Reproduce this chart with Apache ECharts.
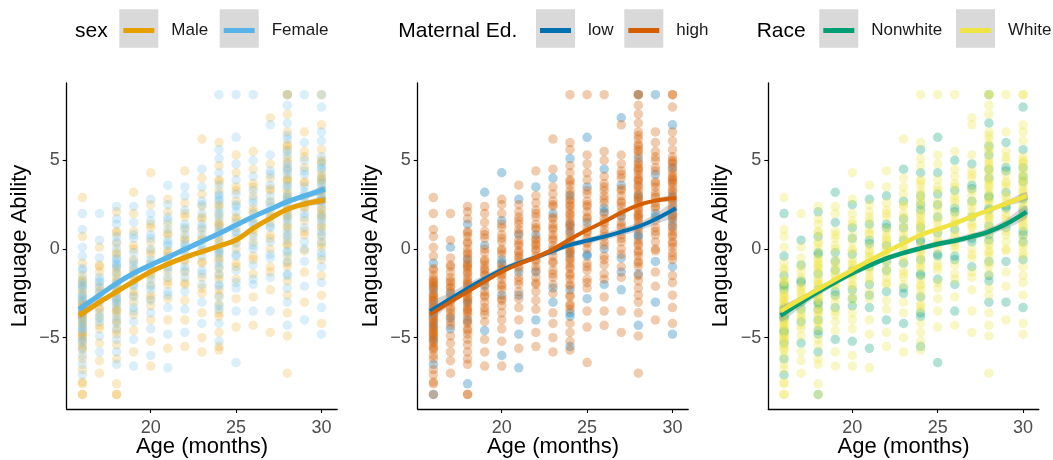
<!DOCTYPE html>
<html><head><meta charset="utf-8">
<script src="https://cdn.jsdelivr.net/npm/echarts@6/dist/echarts.min.js"></script>
<style>html,body{margin:0;padding:0;background:#fff}#c{width:1053px;height:460px}</style>
</head><body><div id="c"></div>
<script>
// ---------- DATA ----------
const ages = [16,17,18,19,20,21,22,23,24,25,26,27,28,29,30];
// language ability of each child, per age column
const abilityByAge = [
  [2.9,2.0,1.1,0.7,0.1, -0.4,-0.8,-1.1,-1.5,-1.7, -1.9,-2.2,-2.3,-2.6,-2.9, -3.0,-3.3,-3.5,-3.6,-3.9, -4.1,-4.2,-4.5,-4.7,-4.8, -5.1,-5.3,-5.6,-5.7,-6.0, -6.2,-6.5,-6.8,-7.1,-7.5, -7.6,-8.2,-8.2],
  [2.0,0.5,0.1,-0.5,-0.9, -1.3,-1.6,-1.9,-2.1,-2.5, -2.7,-3.0,-3.3,-3.6,-3.8, -4.1,-4.5,-4.9,-5.3,-5.8, -6.3,-7.0],
  [2.4,2.1,1.7,1.4,1.0, 0.7,0.3,0.0,-0.3,-0.6, -0.9,-1.1,-1.4,-1.6,-1.8, -2.0,-2.3,-2.5,-2.7,-2.9, -3.1,-3.3,-3.5,-3.8,-4.0, -4.2,-4.5,-4.8,-5.1,-5.4, -5.8,-6.2,-6.5,-7.6,-8.2, -8.2],
  [3.2,2.4,2.0,1.5,1.0, 0.6,0.2,-0.2,-0.6,-0.9, -1.2,-1.5,-1.8,-2.1,-2.4, -2.7,-3.0,-3.3,-3.7,-4.1, -4.6,-5.1,-5.8,-6.6],
  [4.3,2.8,2.5,2.0,1.6, 1.2,0.8,0.4,0.0,-0.3, -0.6,-0.9,-1.2,-1.5,-1.7, -2.0,-2.3,-2.6,-2.9,-3.2, -3.6,-4.0,-4.5,-5.2,-6.0, -6.6],
  [3.6,2.8,2.5,2.1,1.8, 1.4,1.1,0.8,0.5,0.2, -0.1,-0.4,-0.7,-1.0,-1.3, -1.6,-2.0,-2.4,-2.8,-3.3, -4.0,-4.8,-5.6,-6.7],
  [4.4,3.5,3.0,2.6,2.2, 1.8,1.4,1.1,0.8,0.5, 0.2,-0.1,-0.4,-0.7,-1.0, -1.3,-1.6,-2.0,-2.4,-2.9, -3.4,-4.0,-4.7,-5.5],
  [6.2,4.5,4.0,3.5,3.1, 2.7,2.4,2.0,1.7,1.4, 1.1,0.8,0.5,0.2,-0.1, -0.4,-0.8,-1.2,-1.6,-2.0, -2.5,-3.0,-3.6,-4.2,-5.0, -5.8],
  [8.7,6.0,5.6,5.1,4.7, 4.3,3.9,3.6,3.3,3.0, 2.7,2.4,2.2,1.9,1.7, 1.4,1.2,0.9,0.7,0.4, 0.2,-0.1,-0.3,-0.6,-0.8, -1.1,-1.4,-1.7,-2.0,-2.3, -2.7,-3.1,-3.4,-3.8,-4.2, -4.7,-5.2,-5.5,-5.7],
  [8.7,6.3,5.3,4.8,4.3, 3.9,3.5,3.1,2.7,2.4, 2.1,1.8,1.5,1.2,0.9, 0.6,0.3,0.0,-0.4,-0.8, -1.2,-1.7,-2.2,-2.8,-3.5, -4.4,-6.4],
  [8.7,5.5,5.0,4.5,4.1, 3.7,3.3,3.0,2.6,2.3, 2.0,1.7,1.4,1.1,0.7, 0.4,0.0,-0.4,-0.9,-1.4, -2.0,-2.7,-3.5,-4.3],
  [7.4,7.0,5.3,4.8,4.4, 4.0,3.6,3.3,3.0,2.7, 2.4,2.1,1.8,1.5,1.2, 0.8,0.4,0.0,-0.5,-1.0, -1.6,-2.3,-3.5,-4.7],
  [8.7,8.7,8.7,8.1,7.6, 7.1,6.6,6.2,5.8,5.5, 5.1,4.8,4.5,4.2,3.9, 3.6,3.3,3.0,2.8,2.5, 2.3,2.0,1.8,1.5,1.3, 1.0,0.7,0.5,0.2,-0.1, -0.4,-0.7,-1.0,-1.4,-1.8, -2.2,-2.6,-3.0,-3.6,-4.3, -4.9,-7.0],
  [8.7,6.6,6.0,5.5,5.0, 4.6,4.2,3.8,3.5,3.2, 2.9,2.6,2.3,2.0,1.6, 1.2,0.8,0.4,-0.1,-0.7, -1.3,-2.1,-3.0,-4.0],
  [8.7,8.7,8.0,7.0,6.6, 6.1,5.6,5.2,4.9,4.6, 4.3,4.0,3.8,3.5,3.3, 3.0,2.8,2.5,2.3,2.0, 1.8,1.5,1.3,1.0,0.7, 0.4,0.1,-0.2,-0.6,-1.0, -1.5,-1.9,-2.6,-3.3,-4.2, -4.8]
];
// further children in the dense middle of each column
const abilityCoreByAge = [
  [-1.2,-1.8,-2.1,-2.5,-2.8, -3.1,-3.4,-3.7,-4.0,-4.3, -4.6,-4.9,-5.2,-5.5,-2.0, -3.2,-4.4,-3.8,-2.7,-5.0],
  [-1.0,-1.8,-2.4,-2.9,-3.4, -3.9,-4.3,-2.2],
  [0.9,0.4,-0.2,-0.8,-1.3, -1.9,-2.4,-3.0,-3.6,-4.1, -4.6,-1.0,-2.1,-2.8,-3.4, -0.5],
  [0.8,0.0,-0.7,-1.4,-2.0, -2.6,-3.5,-1.1],
  [1.4,0.6,-0.1,-0.8,-1.4, -2.1,-2.8,-1.1],
  [1.6,0.9,0.3,-0.5,-1.1, -1.8,-2.6,-0.2],
  [2.0,1.2,0.6,0.0,-0.6, -1.2,-1.9,0.3],
  [2.5,1.8,1.2,0.6,0.0, -0.7,-1.4,-2.2],
  [3.8,3.1,2.5,2.0,1.5, 1.0,0.5,0.0,-0.5,-1.0, -1.5,-2.1,-2.6,-3.2,-3.6, 2.8,1.3,-0.2],
  [3.3,2.5,1.7,1.0,0.4, -0.3,-1.0,-1.9],
  [3.5,2.8,2.1,1.5,0.9, 0.2,-0.6,-1.7],
  [4.2,3.4,2.6,1.9,1.3, 0.6,-0.3,-1.3],
  [6.4,5.9,5.3,4.9,4.4, 4.0,3.5,3.1,2.7,2.2, 1.7,1.2,0.8,0.3,-0.2, -0.8,-1.5,5.6,4.6,3.8, 2.9,1.9],
  [5.2,4.4,3.7,3.0,2.4, 1.8,1.0,0.0],
  [5.0,4.5,4.1,3.7,3.2, 2.7,2.2,1.7,1.2,0.8, 0.3,-0.4,3.9,2.9,1.9, 4.8]
];
// group of each child (same order as the ability lists)
const sexByAge = [
  "MFFMF FMFMF MFMFM FMMFM FMFMM FMFMF MFMFM MMM",
  "FFMFM MFFMF MFMFM FMFMF MM",
  "FMFFM FMFMF FMFMM FMFMF MFMFM MFMFM FMFMM M",
  "MFMFM FMFMF FMMFM FMFMF MFMF",
  "MFMFF MFMFM FMFMF MFMFM FMFMF M",
  "FMFMF MFMFF MFMFM FMFMF MFMF",
  "MFFMF MFMFM FMFMF MFMFM FMFM",
  "MFMFM FMFMF MFMFM FMFMF MFMFM M",
  "FMFFM FMFMF FMFMF MFMFM FMFMF MFMFM FMFMF MFMM",
  "FFMFM FMFMF FMFMF MFMFM FMFMF MF",
  "FMFMF MFMFM FMFMF MFMFM FMFM",
  "MFFMF MFMFM FMFMF MFMFM FMFM",
  "MFMFM FMFMF MFMFM FMFMF MFMFM FMFMF MFMFM FMFMF MM",
  "FMFMF MFMFF MFMFM FMFMF MFMF",
  "FMFMF FMFMF MFMFM FMFMF MFMFM FMFMF MFMFM F"
];
const sexCoreByAge = [
  "FMFMF MFMFM FMFMF MFMFM","MFMFM FMF","MFMFM FMFMF MFMFM F","FMFMF MFM","MFMFM FMF",
  "FMFMF MFM","MFMFM FMF","FMFMF MFM","MFMFM FMFMF MFMFM FMF","MFMFM FMF",
  "MFMFM FMF","FMFMF MFM","FMFMF MFMFM FMFMF MFMFM FM","MFMFM FMF","MFMFM FMFMF MFMFM F"
];
const edByAge = [
  "HHHHH HLHHH HHLHH HHHLH HHHHH LHHHH HLHHH HHL",
  "HHLHH HHHHL HHHHH HLHHH HH",
  "HHHLH HHHHL HHHHH HLHHH HHHHL HHHHH HHHLH H",
  "LHHHH HLHHH HHHLH HHHHH LHHH",
  "LHHHL HHHHH LHHHH HHLHH HHHHL H",
  "HLHHH HHLHH HHHHL HHHHH HLHL",
  "HLHHH HHHLH HHHHH LHHHH HLHH",
  "HHLHH HHLHH HHHHL HHHHH HLHHH H",
  "HHHLH HHHHL HHHHH LHHHH HHLHH HHHHL HHHLH HHLH",
  "HLHHH HLHHH HHLHH HHHLH HHHLH HH",
  "HHHLH HHHHL HHHHH HLHHH LHHH",
  "LHHHH HLHHH HHLHH HHHLH HLHH",
  "HHLHH HHHHH LHHHH HHLHH HHHHH HLHHH HHHLH HHHHL HH",
  "LHHHH HLHHH HHHLH HHHHL HHLH",
  "HHHLH HHHHL HHHHH LHHHH HHLHH HHHHL HHHHH L"
];
const edCoreByAge = [
  "HHHHH HHHHL HHHHH HHHHH","HHHHH LHH","HHHHH HHLHH HHHHH H","HHHHH HHH","HHHLH HHH",
  "HHHHH HLH","HHHHH HHH","HHHHH HHL","HHHHH LHHHH HHHHL HHH","HHHHH LHH",
  "HHLHH HHH","HHHHH HHL","HHHHH HHHHH HHLHH HHHHH HH","HHHHH LHH","HHHHH HHLHH HHHHH H"
];
const raceByAge = [
  "WNWWW NWWNW WWNWW WNWWN WWWNW WNWWW NWWNW WWW",
  "WNWWN WWNWW WNWWW NWWNW WW",
  "WNWWW NWWNW WWNWW WNWWW NWWWN WWNWW NWWWN W",
  "NWWNW WWNWW NWWWN WWNWW WNWW",
  "WWNWW NWWWN WWNWW WNWWN WWWNW W",
  "WNWWW NWWNW WWWNW WNWWN WWNW",
  "WWNWW WNWWW NWWNW WWWNW WNWW",
  "WNWWW NWWNW WWNWW WNWWW NWWNW W",
  "WWNWW NWWWN WWNWW WNWWN WWWNW WNWWW NWWNW WWNW",
  "WNWWN WWNWW WNWWN WWWNW WNWWW WN",
  "WWNWW WNWWN WWWNW WWNWW NWNW",
  "WWWNW WNWWN WWNWW WNWWN WWWW",
  "WNWWW NWWNW WWNWW WWNWW NWWWN WWNWW WNWWN WWNWW WW",
  "WWNWW NWWWN WWNWW NWWWN WWNW",
  "WWNWW WNWWN WWNWW WNWWN WWWNW NWWNW WWWNW W"
];
const raceCoreByAge = [
  "WWNWW WNWWW NWWWN WWNWW","WNWWN WWW","WWNWW WWNWW NWWWN W","WWNWW NWW","WNWWW WNW",
  "WWNWW WNW","WNWWW NWW","WWNWW WWN","WWNWW WNWWW NWWWN WW","WNWWW NWW",
  "WWNWW WNW","WNWWW NWW","WWNWW NWWWN WWNWW WNWWW NW","WNWWN WWW","WWNWW WNWWN WWWNW W"
];
// smoothed fits (loess)
const fitAges    = [15.8,17,18,19,20,21,22,23,24,25,26,27,28,29,30.2];
const femaleFit  = [-3.40,-2.60,-1.94,-1.37,-0.90,-0.47,-0.02,0.43,0.88,1.35,1.82,2.24,2.67,2.99,3.37];
const maleFit    = [-3.75,-3.00,-2.41,-1.83,-1.28,-0.85,-0.47,-0.15,0.17,0.51,1.17,1.73,2.24,2.54,2.76];
const lowFit     = [-3.50,-2.80,-2.22,-1.68,-1.18,-0.80,-0.47,-0.10,0.23,0.47,0.70,0.97,1.26,1.68,2.30];
const highFit    = [-3.70,-2.98,-2.41,-1.83,-1.28,-0.85,-0.47,-0.02,0.55,1.07,1.54,2.05,2.48,2.73,2.88];
const nonwhiteFit= [-3.75,-3.00,-2.41,-1.87,-1.37,-0.93,-0.53,-0.22,0.04,0.28,0.47,0.70,0.98,1.41,2.10];
const whiteFit   = [-3.50,-2.82,-2.27,-1.72,-1.18,-0.65,-0.15,0.33,0.79,1.12,1.45,1.83,2.20,2.56,3.00];
// half-width of the grey confidence ribbons
const femaleSe   = [0.20,0.15,0.12,0.12,0.12,0.12,0.12,0.12,0.12,0.12,0.12,0.12,0.12,0.15,0.20];
const maleSe     = [0.20,0.15,0.12,0.12,0.12,0.12,0.12,0.12,0.12,0.12,0.12,0.12,0.12,0.15,0.20];
const lowSe      = [0.45,0.35,0.28,0.22,0.18,0.16,0.15,0.15,0.16,0.17,0.19,0.21,0.24,0.30,0.40];
const highSe     = [0.18,0.12,0.10,0.09,0.08,0.08,0.08,0.08,0.08,0.08,0.08,0.09,0.10,0.12,0.16];
const nonwhiteSe = [0.35,0.28,0.22,0.18,0.16,0.15,0.15,0.15,0.16,0.17,0.18,0.19,0.21,0.26,0.35];
const whiteSe    = [0.22,0.16,0.13,0.11,0.10,0.10,0.10,0.10,0.10,0.10,0.10,0.11,0.12,0.15,0.22];
const xTicks = [20,25,30];
const yTicks = [-5,0,5];

// ---------- BUILD ----------
const FONT = '"Liberation Sans", Arial, Helvetica, sans-serif';
function collect(values, labels, key, out){
  ages.forEach((a,i)=>{
    const lab = labels[i].replace(/\s/g,'');
    if (lab.length !== values[i].length) console.warn('label length mismatch at age', a, lab.length, values[i].length);
    values[i].forEach((v,j)=>{ if(lab[j]===key) out.push([a,v]); });
  });
  return out;
}
function pts(labels, coreLabels, key){
  const out=[];
  collect(abilityByAge, labels, key, out);
  collect(abilityCoreByAge, coreLabels, key, out);
  return out;
}
const panels = [
  {title:'sex', groups:[
    {name:'Male', key:'M', labels:sexByAge, core:sexCoreByAge, color:'#E69F00', fit:maleFit, se:maleSe},
    {name:'Female', key:'F', labels:sexByAge, core:sexCoreByAge, color:'#56B4E9', fit:femaleFit, se:femaleSe}], lw:5, op:0.22},
  {title:'Maternal Ed.', groups:[
    {name:'low', key:'L', labels:edByAge, core:edCoreByAge, color:'#0072B2', fit:lowFit, se:lowSe},
    {name:'high', key:'H', labels:edByAge, core:edCoreByAge, color:'#D55E00', fit:highFit, se:highSe}], lw:4, op:0.32},
  {title:'Race', groups:[
    {name:'Nonwhite', key:'N', labels:raceByAge, core:raceCoreByAge, color:'#009E73', fit:nonwhiteFit, se:nonwhiteSe},
    {name:'White', key:'W', labels:raceByAge, core:raceCoreByAge, color:'#F0E442', fit:whiteFit, se:whiteSe}], lw:4.5, op:0.3}
];
const gridLefts = [66.7, 417.7, 768.3];
const legendLayout = [
  {titleX:75,    boxes:[119.3,219.7]},
  {titleX:398.3, boxes:[536,624.3]},
  {titleX:756.7, boxes:[819.3,956]}
];
const grids=[], xAxes=[], yAxes=[], series=[], legends=[], graphics=[];
panels.forEach((p,pi)=>{
  grids.push({left:gridLefts[pi], top:83, width:270.5, height:326, containLabel:false, outerBoundsMode:'none'});
  xAxes.push({type:'value', gridIndex:pi, min:15.08, max:30.92,
    name:'Age (months)', nameLocation:'middle', nameGap:27, nameMoveOverlap:false,
    nameTextStyle:{fontSize:22, color:'#000', fontFamily:FONT},
    axisLine:{show:true, onZero:false, lineStyle:{color:'#000', width:1.3}},
    axisTick:{show:true, inside:false, length:4, lineStyle:{color:'#000', width:1.1}, customValues:xTicks},
    axisLabel:{fontSize:18, color:'#4d4d4d', fontFamily:FONT, margin:10, customValues:xTicks},
    splitLine:{show:false}});
  yAxes.push({type:'value', gridIndex:pi, min:-9.02, max:9.36,
    name:'Language Ability', nameLocation:'middle', nameGap:36, nameMoveOverlap:false,
    nameTextStyle:{fontSize:22, color:'#000', fontFamily:FONT},
    axisLine:{show:true, onZero:false, lineStyle:{color:'#000', width:1.3}},
    axisTick:{show:true, inside:false, length:4, lineStyle:{color:'#000', width:1.1}, customValues:yTicks},
    axisLabel:{fontSize:18, color:'#4d4d4d', fontFamily:FONT, margin:7, customValues:yTicks,
      formatter:v=>String(v).replace('-','\u2212')},
    splitLine:{show:false}});
  // points
  p.groups.forEach(g=>{
    series.push({type:'scatter', name:g.name, xAxisIndex:pi, yAxisIndex:pi,
      data:pts(g.labels,g.core,g.key), symbol:'circle', symbolSize:9.5,
      itemStyle:{color:g.color, opacity:p.op}, silent:true, z:2});
  });
  // grey confidence ribbons
  p.groups.forEach(g=>{
    const band = fitAges.map((a,i)=>[a, g.fit[i]-g.se[i], g.fit[i]+g.se[i]]);
    series.push({type:'custom', name:g.name+' ribbon', xAxisIndex:pi, yAxisIndex:pi,
      data:[band[0]], silent:true, z:3, clip:true,
      renderItem:(params, api)=>{
        const up = band.map(b=>api.coord([b[0], b[2]]));
        const lo = band.map(b=>api.coord([b[0], b[1]])).reverse();
        return {type:'polygon', shape:{points:up.concat(lo), smooth:0.25},
          style:{fill:'rgba(153,153,153,0.4)'}};
      }});
  });
  // fitted lines
  p.groups.forEach(g=>{
    series.push({type:'line', name:g.name, xAxisIndex:pi, yAxisIndex:pi, smooth:0.4,
      symbol:'none', data:fitAges.map((a,i)=>[a, g.fit[i]]),
      lineStyle:{color:g.color, width:p.lw}, itemStyle:{color:g.color}, silent:true, z:4});
  });
  // legend: one component per key so each sits on its grey key box
  const L = legendLayout[pi];
  p.groups.forEach((g,gi)=>{
    legends.push({left:L.boxes[gi]+4, top:22, padding:0, itemWidth:31, itemHeight:5,
      selectedMode:false, z:6,
      textStyle:{fontSize:17, color:'#1a1a1a', fontFamily:FONT, padding:[0,0,0,12]},
      data:[{name:g.name, icon:'rect', itemStyle:{color:g.color, opacity:1, borderWidth:0}}]});
    graphics.push({type:'rect', shape:{x:L.boxes[gi], y:9.3, width:39, height:38.4}, z:0,
      style:{fill:'#d9d9d9'}});
  });
  graphics.push({type:'text', left:L.titleX, top:21, z:6,
    style:{text:p.title, fontSize:21, fill:'#000', fontFamily:FONT}});
});

const chart = echarts.init(document.getElementById('c'), null, {renderer:'canvas'});
chart.setOption({
  backgroundColor:'#fff', animation:false,
  textStyle:{fontFamily:FONT},
  grid:grids, xAxis:xAxes, yAxis:yAxes, legend:legends, graphic:graphics, series:series
});
</script></body></html>
